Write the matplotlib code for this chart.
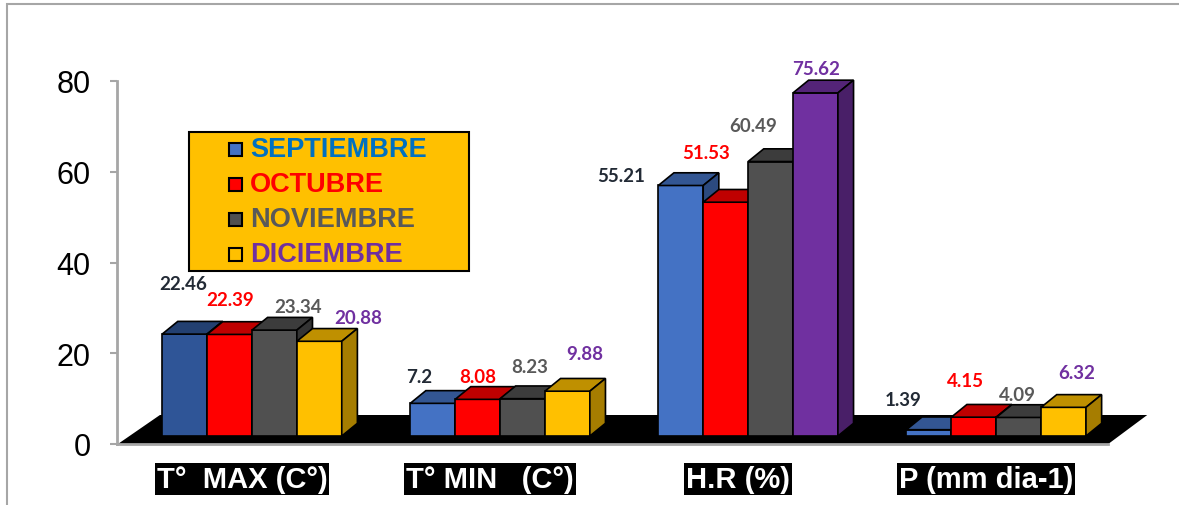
import numpy as np
import matplotlib.pyplot as plt
from matplotlib.patches import Polygon, Rectangle
from matplotlib.colors import to_rgb

W, H = 1179, 506

# datos
categorias = ["T°  MAX (C°)", "T° MIN   (C°)", "H.R (%)", "P (mm dia-1)"]
meses = ["SEPTIEMBRE", "OCTUBRE", "NOVIEMBRE", "DICIEMBRE"]
septiembre = [22.46, 7.2, 55.21, 1.39]
octubre = [22.39, 8.08, 51.53, 4.15]
noviembre = [23.34, 8.23, 60.49, 4.09]
diciembre = [20.88, 9.88, 75.62, 6.32]
yticks = [0, 20, 40, 60, 80]
series = [septiembre, octubre, noviembre, diciembre]

# colores de cada barra (por categoria)
bar_colors = [
    ["#2F5597", "#FF0000", "#505050", "#FFC000"],
    ["#4472C4", "#FF0000", "#505050", "#FFC000"],
    ["#4472C4", "#FF0000", "#505050", "#7030A0"],
    ["#4472C4", "#FF0000", "#505050", "#FFC000"],
]
legend_colors = ["#4472C4", "#FF0000", "#505050", "#FFC000"]
text_colors = ["#0070C0", "#FF0000", "#595959", "#7030A0"]
label_colors = ["#222A35", "#FF0000", "#595959", "#7030A0"]

# desplazamiento de etiquetas (pixeles) respecto al centro superior de cada barra
label_offsets = [
    [(-1, 51), (1, 35), (24, 24), (39, 24)],
    [(-13, 27), (0, 23), (7, 32), (17, 38)],
    [(-60, 10), (-20, 50), (-17, 36), (1, 24)],
    [(-26, 30), (-8, 37), (-1, 23), (13, 35)],
]

# geometria 3D
w = 0.181      # ancho de barra
base = 1.76    # grosor del piso
dx, dy = 0.063, 2.8


def shade(c, f):
    r, g, b = to_rgb(c)
    return (r * f, g * f, b * f)


fig = plt.figure(figsize=(W / 100, H / 100), dpi=100)
ax = fig.add_axes([117 / W, (H - 445) / H, (1150 - 117) / W, (445 - 82) / H])
ax.set_xlim(-0.544, 3.62)
ax.set_ylim(0, 80)

# piso negro
px = lambda x: (x - 252) / 248.0
py = lambda y: (445 - y) / 4.5375
floor = Polygon([(px(118), 0), (px(1108), 0), (px(1147), py(416)), (px(160), py(416))],
                closed=True, facecolor="black", edgecolor="none", zorder=2)
ax.add_patch(floor)

for g in range(len(categorias)):
    for j, serie in enumerate(series):
        v = serie[g]
        c = bar_colors[g][j]
        left = g - 2 * w + j * w
        z = 3 + j
        ax.bar(left, v, width=w, bottom=base, align="edge", color=c,
               edgecolor="black", linewidth=1.2, zorder=z)
        top = base + v
        ax.add_patch(Polygon([(left, top), (left + w, top), (left + w + dx, top + dy), (left + dx, top + dy)],
                             closed=True, facecolor=shade(c, 0.75), edgecolor="black",
                             linewidth=1.2, zorder=z, clip_on=False))
        ax.add_patch(Polygon([(left + w, base), (left + w + dx, base + dy), (left + w + dx, top + dy), (left + w, top)],
                             closed=True, facecolor=shade(c, 0.65), edgecolor="black",
                             linewidth=1.2, zorder=z, clip_on=False))
        ox, oy = label_offsets[g][j]
        ax.annotate(str(v), xy=(left + w / 2, top), xytext=(ox, oy), textcoords="offset pixels",
                    ha="center", va="center", fontsize=13.5, fontweight="bold", family="Lato",
                    color=label_colors[j], zorder=10, annotation_clip=False)

    ax.text(g - 10 / 248.0, -35 / 363.0, categorias[g], transform=ax.get_xaxis_transform(),
            ha="center", va="center", fontsize=21, fontweight="bold", family="Liberation Sans",
            color="white", bbox=dict(facecolor="black", edgecolor="none", pad=1.5))

# ejes
for s in ["top", "right"]:
    ax.spines[s].set_visible(False)
ax.spines["left"].set_color("#A6A6A6")
ax.spines["left"].set_linewidth(2)
ax.spines["left"].set_bounds(0, 80)
ax.spines["bottom"].set_color("#A6A6A6")
ax.spines["bottom"].set_linewidth(2)
ax.spines["bottom"].set_bounds(-0.544, px(1108))
ax.set_xticks([])
ax.set_yticks(yticks)
ax.tick_params(axis="y", length=5, width=1.5, color="#A6A6A6", pad=14, labelsize=22)
for t in ax.get_yticklabels():
    t.set_family("Liberation Sans")
ax.patch.set_alpha(0)

# leyenda
fx = lambda x: x / W
fy = lambda y: 1 - y / H
fig.add_artist(Rectangle((fx(189), fy(272)), (469 - 189) / W, (272 - 133) / H, transform=fig.transFigure,
                         facecolor="#FFC000", edgecolor="black", linewidth=1.5, zorder=20))
for k, mes in enumerate(meses):
    yc = 150 + k * 35
    fig.add_artist(Rectangle((fx(229), fy(yc + 6.5)), 13 / W, 13 / H, transform=fig.transFigure,
                             facecolor=legend_colors[k], edgecolor="black", linewidth=1.5, zorder=21))
    fig.text(fx(250), fy(yc), mes, ha="left", va="center", fontsize=19.5, fontweight="bold",
             family="Liberation Sans", color=text_colors[k], zorder=22)

# marco exterior
fig.add_artist(Rectangle((fx(7), -0.1), 1.2, fy(5) + 0.1, transform=fig.transFigure,
                         fill=False, edgecolor="#A6A6A6", linewidth=1.5))

fig.savefig("out.png", dpi=100)
